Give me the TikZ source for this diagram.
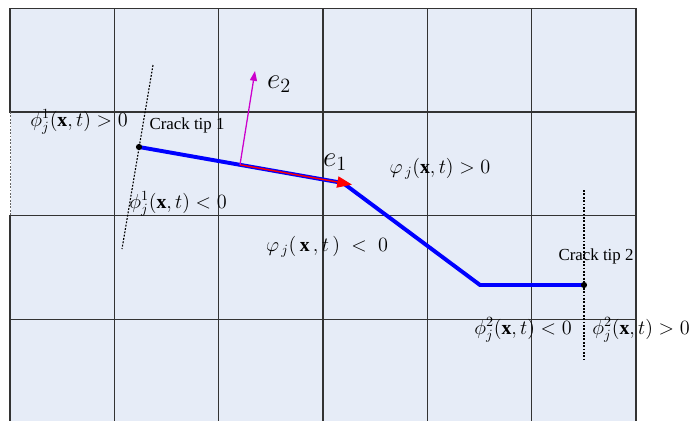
\documentclass[tikz,border=0pt]{standalone}
\usepackage{amsmath}
\usepackage{amssymb}
\usepackage{fontspec}
\setmainfont{Liberation Serif}
\usetikzlibrary{arrows.meta}

\definecolor{cellblue}{RGB}{230,236,247}
\definecolor{crackblue}{RGB}{0,0,255}
\definecolor{basemag}{RGB}{204,0,204}

\begin{document}
\begin{tikzpicture}[x=0.025cm,y=-0.025cm,
  cell/.style={fill=cellblue,draw=black!80,line width=0.9pt},
  crack/.style={crackblue,line width=2.8pt,line join=miter},
  level/.style={black,line width=0.8pt,dash pattern=on 1.3pt off 1.1pt},
  lbl/.style={inner sep=0pt,font=\fontsize{14}{16}\selectfont},
  tiplbl/.style={inner sep=0pt,font=\fontsize{12}{14}\selectfont},
  vec/.style={inner sep=0pt,font=\fontsize{20}{24}\selectfont}]
\clip (0,0) rectangle (693,421);
% background mesh
\foreach \i in {0,...,5}
  \foreach \j in {0,...,3}
    \draw[cell] ({10+104.33*\i},{8.3+103.7*\j}) rectangle ++(104.33,103.7);
\draw[white,line width=1.4pt] (10,112.8) -- (10,215.2);
\draw[black!60,line width=0.7pt,dash pattern=on 1.3pt off 1.1pt] (10,112) -- (10,216);

% crack path and tips
\coordinate (tip1) at (139,147);
\coordinate (kink1) at (343,183);
\coordinate (kink2) at (480,285);
\coordinate (tip2) at (584,285);
\draw[crack] (tip1) -- (kink1) -- (kink2) -- (tip2);
\fill (tip1) circle (2.2pt);
\fill (tip2) circle (2.2pt);

% level set lines at the tips
\coordinate (lev1a) at (153,65);
\coordinate (lev1b) at (122,249);
\coordinate (lev2a) at (584,190);
\coordinate (lev2b) at (584,360);
\draw[level] (lev1a) -- (lev1b);
\draw[level] (lev2a) -- (lev2b);

% local base
\coordinate (orig) at (240,164.8);
\coordinate (e1end) at (352,184.6);
\coordinate (e2end) at (255,71);
\draw[red,line width=1pt,-{Triangle[length=10.5pt,width=8pt]}] (orig) -- (e1end);
\draw[basemag,line width=0.9pt,-{Triangle[length=7pt,width=5pt]}] (orig) -- (e2end);
\node[vec] (e2) at (279,84) {$e_2$};
\node[vec] (e1) at (335,162) {$e_1$};

% labels
\node[tiplbl] (ct1) at (187,125) {Crack tip 1};
\node[tiplbl] (ct2) at (596,256) {Crack tip 2};
\node[lbl] (phiA) at (79,122) {$\phi_j^1(\mathbf{x},t)>0$};
\node[lbl] (phiB) at (178,204) {$\phi_j^1(\mathbf{x},t)<0$};
\node[lbl] (phiC) at (523,330) {$\phi_j^2(\mathbf{x},t)<0$};
\node[lbl] (phiD) at (641,330) {$\phi_j^2(\mathbf{x},t)>0$};
\node[lbl] (psiA) at (440,169) {$\varphi_{\,j}(\mathbf{x},t)>0$};
\node[lbl] (psiB) at (327,247) {$\varphi_{\,j}(\,\mathbf{x}\,,t\,)\;<\;0$};
\end{tikzpicture}
\end{document}
